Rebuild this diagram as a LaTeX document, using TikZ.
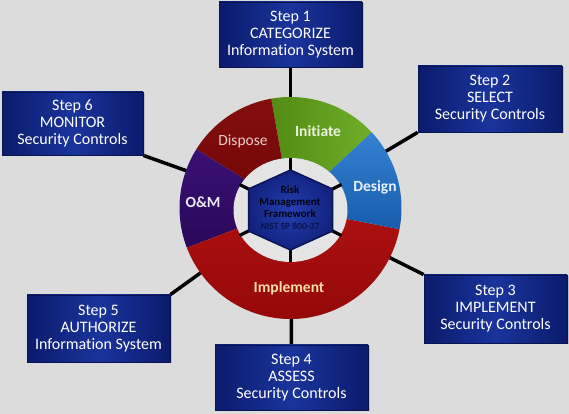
\documentclass[tikz,border=0pt]{standalone}
\usepackage{fontspec}
\setmainfont{Carlito}[Ligatures=NoCommon]
\usetikzlibrary{calc,shadows}
\definecolor{bg}{HTML}{DCDCDC}
\definecolor{boxdark}{HTML}{0B1B6C}
\definecolor{boxmid}{HTML}{1A349C}
\definecolor{boxedge}{HTML}{081352}
\definecolor{innerfill}{HTML}{E4E4E4}
\definecolor{hubtext}{HTML}{03030F}
\definecolor{nisttext}{HTML}{0A1248}
\pgfdeclarelayer{bgl}
\pgfsetlayers{bgl,main}
\begin{document}
\begin{tikzpicture}[x=1pt,y=1pt,
  stepbox/.style={draw=boxedge, line width=0.8pt, shade, left color=boxdark, right color=boxdark, middle color=boxmid,
    text=white, align=center, font=\fontsize{16}{17}\selectfont, inner sep=0pt,
    drop shadow={shadow xshift=1.5pt, shadow yshift=-1.5pt, opacity=0.35}},
  link/.style={line width=3.5pt, black},
  spoke/.style={line width=3.2pt, black},
  seglabel/.style={font=\bfseries\fontsize{15.5}{17}\selectfont, inner sep=0pt}
]
\begin{pgfonlayer}{bgl}
\fill[bg] (0,0) rectangle (569,414);
\end{pgfonlayer}
\useasboundingbox (0,0) rectangle (569,414);
\coordinate (C) at (290.5,206);
\coordinate (H) at (290.5,204);

% step boxes
\node[stepbox, minimum width=143pt, minimum height=65pt] (s1) at (290.5,379.5) {Step 1\\CATEGORIZE\\Information System};
\node[stepbox, minimum width=144pt, minimum height=66pt] (s2) at (490,315) {Step 2\\SELECT\\Security Controls};
\node[stepbox, minimum width=143pt, minimum height=68pt] (s3) at (495.5,105) {Step 3\\IMPLEMENT\\Security Controls};
\node[stepbox, minimum width=153pt, minimum height=65pt] (s4) at (291.5,36.5) {Step 4\\ASSESS\\Security Controls};
\node[stepbox, minimum width=143pt, minimum height=67pt] (s5) at (98.5,85.5) {Step 5\\AUTHORIZE\\Information System};
\node[stepbox, minimum width=141pt, minimum height=63pt] (s6) at (72.5,290.5) {Step 6\\MONITOR\\Security Controls};

% connectors (under everything)
\begin{pgfonlayer}{bgl}
\draw[link] (C) -- (s1.south);
\draw[link] (C) -- (s2.south west);
\draw[link] (C) -- (s3.north west);
\draw[link] (C) -- (s4.north);
\draw[link] (C) -- (s5.north east);
\draw[link] (C) -- (s6.south east);
\end{pgfonlayer}

% ring segments
\shade[left color={rgb,255:red,82;green,140;blue,20}, right color={rgb,255:red,112;green,174;blue,40}]
  (C) -- ++(43:111) arc[start angle=43, end angle=100, radius=111] -- cycle;
\shade[top color={rgb,255:red,132;green,14;blue,14}, bottom color={rgb,255:red,112;green,6;blue,6}]
  (C) -- ++(100:111) arc[start angle=100, end angle=148, radius=111] -- cycle;
\shade[top color={rgb,255:red,58;green,16;blue,116}, bottom color={rgb,255:red,42;green,8;blue,90}]
  (C) -- ++(148:111) arc[start angle=148, end angle=201, radius=111] -- cycle;
\shade[top color={rgb,255:red,174;green,16;blue,16}, bottom color={rgb,255:red,146;green,8;blue,8}]
  (C) -- ++(201:111) arc[start angle=201, end angle=349, radius=111] -- cycle;
\shade[top color={rgb,255:red,52;green,130;blue,210}, bottom color={rgb,255:red,24;green,92;blue,172}]
  (C) -- ++(-11:111) arc[start angle=-11, end angle=43, radius=111] -- cycle;

% inner area
\fill[innerfill] (H) ellipse[x radius=57, y radius=52];
\foreach \a/\b in {0/52, 51/25.5, 51/-25.5, 0/-52, -51/-25.5, -51/25.5}
  \draw[spoke] (H) -- ++(\a,\b);
\path[shade, inner color={rgb,255:red,36;green,64;blue,176}, outer color={rgb,255:red,18;green,34;blue,126}, draw={rgb,255:red,10;green,20;blue,86}, line width=1.5pt]
  ([shift={(0,40)}]H) -- ([shift={(42,21)}]H) -- ([shift={(42,-21)}]H) -- ([shift={(0,-40)}]H)
  -- ([shift={(-42,-21)}]H) -- ([shift={(-42,21)}]H) -- cycle;
\node[align=center, font=\bfseries\fontsize{11}{12.2}\selectfont, text=hubtext, inner sep=0pt] (hub) at (290,206.5)
  {Risk\\Management\\Framework\\{\color{nisttext}\fontsize{9.5}{11}\selectfont NIST SP 800-37}};

% segment labels
\node[seglabel, text={rgb,255:red,232;green,242;blue,222}] (initiate) at (318,283) {Initiate};
\node[seglabel, font=\fontsize{15.5}{17}\selectfont, text={rgb,255:red,236;green,204;blue,204}] (dispose) at (243,273) {Dispose};
\node[seglabel, text={rgb,255:red,232;green,240;blue,250}] (design) at (375,227) {Design};
\node[seglabel, text={rgb,255:red,236;green,232;blue,246}] (om) at (203,212) {O\&M};
\node[seglabel, text={rgb,255:red,246;green,220;blue,170}] (implement) at (289,126) {Implement};
\end{tikzpicture}
\end{document}
